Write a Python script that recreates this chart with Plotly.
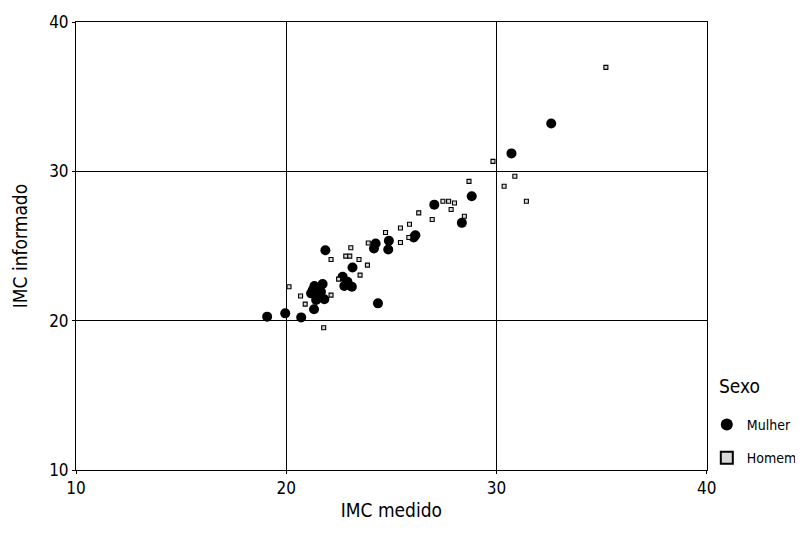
import plotly.graph_objects as go

# Data
mulher_x = [19.09, 19.95, 20.71, 21.32, 21.86, 21.34, 21.73, 21.18, 21.57, 21.81, 21.42, 21.26, 21.65,
            22.68, 23.15, 22.91, 23.12, 22.76, 24.36, 24.25, 24.17, 24.85, 24.88, 26.14, 26.06, 27.04,
            28.82, 28.35, 30.71, 32.6]
mulher_y = [20.27, 20.49, 20.22, 20.76, 24.72, 22.32, 22.45, 21.83, 21.60, 21.43, 21.38, 22.05, 21.94,
            22.94, 23.56, 22.61, 22.27, 22.32, 21.16, 25.17, 24.83, 24.77, 25.35, 25.72, 25.57, 27.77,
            28.33, 26.55, 31.2, 33.2]

homem_x = [20.13, 20.68, 20.90, 21.78, 23.07, 22.83, 23.02, 23.46, 23.86, 23.51, 22.49, 25.43, 25.86,
           25.43, 25.83, 26.94, 27.45, 27.72, 28.0, 29.83, 30.87, 30.36, 31.42, 22.13, 26.30, 28.69,
           27.84, 24.72, 23.9, 28.47, 35.2, 22.13]
homem_y = [22.27, 21.65, 21.11, 19.53, 24.88, 24.32, 24.32, 24.10, 23.72, 23.05, 22.78, 26.21, 26.46,
           25.23, 25.57, 26.77, 28.0, 28.0, 27.88, 30.67, 29.67, 29.0, 28.0, 24.10, 27.22, 29.33,
           27.44, 25.90, 25.2, 26.99, 36.96, 21.71]

tick_vals = [10, 20, 30, 40]
tick_text = ["10", "20", "30", "40"]

FONT = "DejaVu Sans Condensed, Liberation Sans Narrow, Liberation Sans, Arial, sans-serif"

fig = go.Figure()
fig.add_trace(go.Scatter(
    x=mulher_x, y=mulher_y, mode="markers", name="Mulher", legendgroup="m",
    marker=dict(symbol="circle", size=10, color="black", line=dict(width=0)),
))
fig.add_trace(go.Scatter(
    x=homem_x, y=homem_y, mode="markers", name="Homem", legendgroup="h",
    marker=dict(symbol="square", size=4, color="#d8d8d8", line=dict(width=1.1, color="black")),
))

axis_common = dict(
    range=[10, 40], tickvals=tick_vals, ticktext=tick_text,
    showgrid=True, gridcolor="black", gridwidth=1,
    showline=True, linecolor="black", linewidth=1, mirror=True,
    zeroline=False, ticks="outside", ticklen=3, tickcolor="black",
    tickfont=dict(family=FONT, size=17, color="black"),
    automargin=False,
)

fig.update_layout(
    width=795, height=539,
    margin=dict(l=68, r=95, t=14, b=77),
    paper_bgcolor="white", plot_bgcolor="white",
    font=dict(family=FONT, color="black"),
    xaxis=dict(**axis_common, title=dict(text="IMC medido", font=dict(family=FONT, size=19), standoff=6)),
    yaxis=dict(**axis_common, title=dict(text="IMC informado", font=dict(family=FONT, size=19), standoff=16)),
    legend=dict(
        font=dict(family=FONT, size=14),
        xref="container", yref="container",
        x=0.879, y=0.256, xanchor="left", yanchor="top",
        bgcolor="rgba(0,0,0,0)", itemsizing="constant",
        tracegroupgap=12,
    ),
    annotations=[dict(
        text="Sexo", xref="paper", yref="paper",
        x=(710 - 68) / 632, y=(461 - 377) / 448, xanchor="left", yanchor="middle",
        showarrow=False, font=dict(family=FONT, size=19, color="black"),
    )],
)

fig.write_html("out.html")
